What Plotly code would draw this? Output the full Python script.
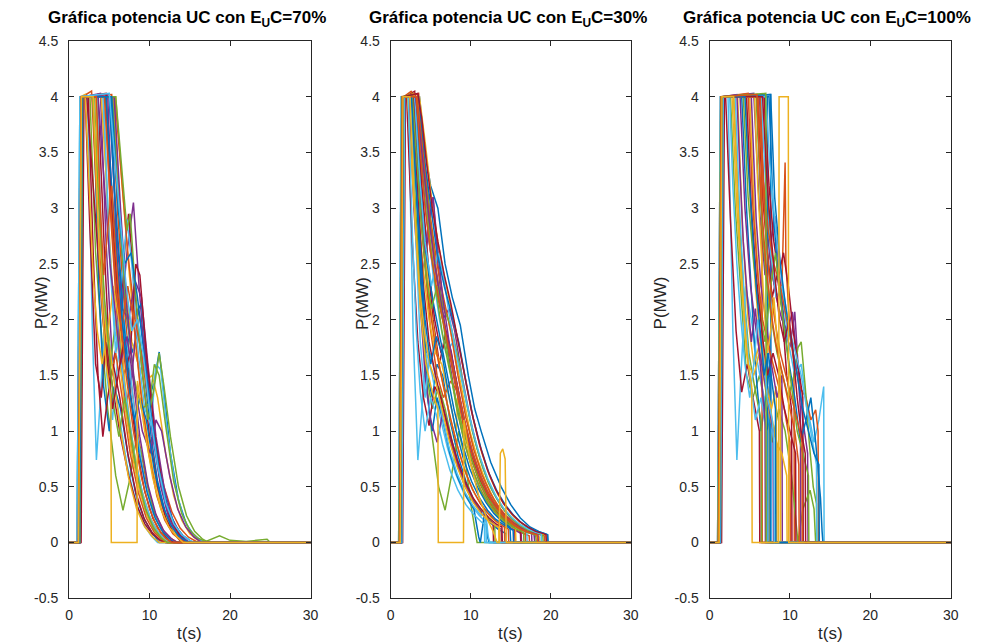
import plotly.graph_objects as go

# ---------------- data (t [s], P [MW]) ----------------
titles = ["Gráfica potencia UC con E<sub>U</sub>C=70%",
          "Gráfica potencia UC con E<sub>U</sub>C=30%",
          "Gráfica potencia UC con E<sub>U</sub>C=100%"]
x_ticks = [0, 10, 20, 30]
y_ticks = [-0.5, 0, 0.5, 1, 1.5, 2, 2.5, 3, 3.5, 4, 4.5]
y_ticktext = ["-0.5", "0", "0.5", "1", "1.5", "2", "2.5", "3", "3.5", "4", "4.5"]
matlab_colors = ["#0072BD", "#D95319", "#EDB120", "#7E2F8E", "#77AC30", "#4DBEEE", "#A2142F"]

curves_70 = [
    [[0,0],[1.3,0],[1.6,4.0],[5.6,4.0],[6.3,2.9],[7.0,2.1],[7.8,1.7],[8.6,1.9],[9.4,1.5],[10.2,0.95],[11.0,0.55],[12.0,0.26],[13.0,0.11],[14.0,0.04],[15.0,0],[30,0]],
    [[0,0],[1.0,0],[1.4,4.0],[5.3,4.02],[6.0,3.0],[6.8,2.2],[7.6,1.5],[8.6,0.95],[9.6,0.55],[10.6,0.28],[11.6,0.12],[12.6,0.04],[13.5,0],[30,0]],
    [[0,0],[1.1,0],[1.5,4.0],[5.8,4.0],[6.6,3.2],[7.5,2.4],[8.4,1.7],[9.4,1.1],[10.4,0.65],[11.4,0.35],[12.4,0.17],[13.4,0.07],[14.5,0],[30,0]],
    [[0,0],[1.4,0],[1.8,4.0],[3.9,4.03],[4.6,2.7],[5.4,1.6],[6.3,1.9],[7.2,2.6],[8.0,3.05],[8.7,2.3],[9.5,1.55],[10.4,0.95],[11.4,0.5],[12.4,0.22],[13.4,0.08],[14.4,0],[30,0]],
    [[0,0],[1.2,0],[1.5,4.0],[2.6,4.0],[3.3,2.6],[4.0,1.9],[4.8,1.2],[5.8,0.6],[6.7,0.29],[7.5,0.55],[8.4,0.95],[9.2,0.75],[10.0,0.42],[11.0,0.18],[12.0,0.05],[12.6,0],[30,0]],
    [[0,0],[1.0,0],[1.35,4.0],[2.3,4.0],[2.9,1.9],[3.4,0.74],[3.9,1.3],[4.5,2.1],[5.2,1.7],[6.2,1.15],[7.2,0.7],[8.2,0.38],[9.2,0.17],[10.2,0.06],[11.0,0],[30,0]],
    [[0,0],[1.5,0],[1.85,4.0],[3.6,4.0],[4.4,2.6],[5.2,1.45],[6.2,1.9],[7.0,2.7],[7.4,2.95],[8.0,2.4],[9.0,1.6],[10.0,0.95],[11.0,0.5],[12.0,0.22],[13.0,0.08],[14.0,0],[30,0]],
    [[0,0],[1.2,0],[1.55,4.0],[5.2,4.0],[6.0,2.5],[7.0,1.7],[8.0,2.0],[9.0,2.15],[10.0,1.3],[10.6,1.45],[11.2,1.71],[11.8,1.35],[12.6,0.8],[13.6,0.38],[14.6,0.16],[15.6,0.06],[16.6,0.01],[17,0],[30,0]],
    [[0,0],[1.1,0],[1.45,4.0],[4.5,4.0],[5.2,2.9],[6.0,2.0],[6.8,1.4],[7.8,0.85],[8.8,0.48],[9.8,0.24],[10.8,0.1],[11.8,0.03],[12.5,0],[30,0]],
    [[0,0],[1.2,0],[1.55,4.0],[5.5,4.0],[6.2,3.1],[7.0,2.3],[7.8,1.8],[8.6,1.6],[9.5,1.45],[10.3,1.5],[11.0,1.3],[12.0,0.8],[13.0,0.42],[14.0,0.2],[15.0,0.08],[16.0,0.02],[16.5,0],[30,0]],
    [[0,0],[1.3,0],[1.65,4.0],[4.8,4.02],[5.5,2.7],[6.3,1.8],[7.0,1.2],[7.8,1.5],[8.6,2.1],[9.3,1.8],[10.2,1.1],[11.2,0.6],[12.2,0.28],[13.2,0.12],[14.2,0.04],[15.0,0],[30,0]],
    [[0,0],[1.15,0],[1.5,4.0],[3.2,4.0],[3.8,2.9],[4.3,2.2],[5.0,1.5],[5.8,2.0],[6.6,1.6],[7.6,1.0],[8.6,0.55],[9.6,0.27],[10.6,0.11],[11.6,0.03],[12.2,0],[30,0]],
    [[0,0],[1.25,0],[1.6,4.0],[4.2,4.0],[5.0,2.6],[5.8,1.7],[6.6,2.4],[7.2,2.9],[7.8,2.5],[8.6,1.7],[9.4,1.2],[10.2,1.05],[10.8,1.6],[11.4,1.55],[12.2,1.0],[13.2,0.5],[14.2,0.22],[15.2,0.09],[16.2,0.03],[17.0,0],[30,0]],
    [[0,0],[1.05,0],[1.4,4.0],[2.0,4.0],[2.6,2.8],[3.3,1.6],[4.0,1.3],[4.6,1.8],[5.4,1.4],[6.4,0.95],[7.4,0.6],[8.4,0.34],[9.4,0.17],[10.4,0.07],[11.4,0.02],[12,0],[30,0]],
    [[0,0],[1.35,0],[1.7,4.0],[3.0,4.0],[3.7,2.3],[4.3,1.4],[5.0,1.0],[5.6,1.4],[6.4,1.2],[7.4,0.75],[8.4,0.4],[9.4,0.2],[10.4,0.08],[11.2,0],[30,0]],
    [[0,0],[1.2,0],[1.55,4.0],[5.7,4.0],[6.5,3.3],[7.3,2.6],[8.2,2.0],[9.0,1.7],[9.8,1.3],[10.8,0.85],[11.8,0.5],[12.8,0.27],[13.8,0.13],[14.8,0.05],[15.8,0.01],[16.3,0],[30,0]],
    [[0,0],[1.1,0],[1.45,4.0],[4.0,4.0],[4.6,3.3],[5.3,2.4],[6.0,1.8],[6.8,1.3],[7.8,0.8],[8.8,0.45],[9.8,0.22],[10.8,0.1],[11.8,0.03],[12.5,0],[30,0]],
    [[0,0],[1.3,0],[1.65,4.0],[5.0,4.0],[5.8,2.9],[6.6,2.1],[7.4,2.0],[8.2,2.35],[9.0,2.2],[9.8,1.6],[10.8,0.95],[11.8,0.5],[12.8,0.22],[13.8,0.08],[14.8,0],[30,0]],
    [[0,0],[1.25,0],[1.6,4.0],[5.4,4.0],[6.2,3.0],[7.0,2.2],[8.0,1.5],[9.0,1.2],[10.0,1.25],[10.6,1.6],[11.2,1.5],[12.0,1.05],[13.0,0.55],[14.0,0.26],[15.0,0.11],[16.0,0.04],[17.0,0.01],[18.7,0.06],[20.0,0.02],[22.0,0.01],[24.6,0.03],[25.0,0],[30,0]],
    [[0,0],[1.0,0],[1.35,4.0],[3.5,4.0],[4.1,2.5],[4.7,1.5],[5.4,1.1],[6.0,1.6],[6.8,2.0],[7.5,1.6],[8.4,1.0],[9.4,0.55],[10.4,0.27],[11.4,0.12],[12.4,0.04],[13.0,0],[30,0]],
    [[0,0],[1.4,0],[1.75,4.0],[4.6,4.03],[5.3,3.0],[6.1,2.2],[6.8,1.5],[7.6,1.7],[8.3,2.5],[8.8,2.4],[9.6,1.7],[10.6,1.0],[11.6,0.5],[12.6,0.22],[13.6,0.08],[14.6,0],[30,0]],
    [[0,0],[1.15,0],[1.5,4.0],[5.0,4.0],[5.6,3.2],[6.2,2.6],[6.9,1.9],[7.7,1.3],[8.7,0.8],[9.7,0.45],[10.7,0.22],[11.7,0.09],[12.7,0.02],[13.3,0],[30,0]],
    [[0,0],[1.3,0],[1.65,4.0],[2.8,4.05],[3.5,3.0],[4.2,2.1],[5.0,1.4],[5.8,1.7],[6.6,1.3],[7.6,0.8],[8.6,0.45],[9.6,0.22],[10.6,0.09],[11.6,0.02],[12.2,0],[30,0]],
    [[0,0],[1.1,0],[1.45,4.0],[3.3,4.0],[4.0,2.6],[4.7,1.8],[5.5,2.3],[6.2,2.0],[7.0,1.4],[8.0,0.85],[9.0,0.48],[10.0,0.24],[11.0,0.1],[12.0,0.03],[12.7,0],[30,0]],
    [[0,0],[1.35,0],[1.7,4.0],[5.6,4.0],[6.4,3.0],[7.2,2.1],[8.1,1.45],[9.1,1.0],[10.1,0.8],[10.8,1.1],[11.5,1.0],[12.5,0.6],[13.5,0.3],[14.5,0.14],[15.5,0.05],[16.5,0],[30,0]],
    [[0,0],[1.2,0],[1.55,4.0],[5.8,4.0],[6.5,3.4],[7.2,2.8],[7.6,2.95],[8.2,2.3],[9.0,1.6],[9.8,1.1],[10.6,1.4],[11.2,1.7],[11.8,1.4],[12.6,0.95],[13.6,0.5],[14.6,0.24],[15.6,0.1],[16.6,0.03],[17.4,0],[30,0]],
    [[0,0],[1.25,0],[1.6,4.0],[4.3,4.0],[5.0,2.7],[5.7,1.9],[6.5,1.6],[7.3,1.2],[8.2,0.75],[9.2,0.42],[10.2,0.2],[11.2,0.08],[12.2,0.02],[12.8,0],[30,0]],
    [[0,0],[1.15,0],[1.5,4.0],[2.4,4.0],[3.0,2.6],[3.6,1.5],[4.2,0.95],[4.8,1.3],[5.5,1.6],[6.3,1.3],[7.3,0.8],[8.3,0.45],[9.3,0.22],[10.3,0.09],[11.3,0.02],[12,0],[30,0]],
    [[0,0],[1.3,0],[1.65,4.0],[5.3,4.0],[6.1,3.0],[6.9,2.5],[7.7,2.6],[8.5,2.2],[9.3,1.7],[10.2,1.15],[11.2,0.65],[12.2,0.33],[13.2,0.15],[14.2,0.06],[15.2,0.01],[15.7,0],[30,0]],
    [[0,0],[1.05,0],[1.4,4.0],[4.4,4.0],[5.1,3.1],[5.8,2.3],[6.5,1.9],[7.3,2.3],[8.0,2.0],[8.9,1.35],[9.9,0.8],[10.9,0.42],[11.9,0.2],[12.9,0.08],[13.9,0.02],[14.5,0],[30,0]],
    [[0,0],[1.1,0],[1.45,4.0],[2.0,4.02],[2.5,3.2],[3.0,2.4],[3.5,1.9],[4.1,1.6],[4.8,1.9],[5.5,1.5],[6.4,1.0],[7.4,0.58],[8.4,0.3],[9.4,0.14],[10.4,0.05],[11.2,0],[30,0]],
    [[0,0],[1.25,0],[1.6,4.0],[3.6,4.02],[4.1,3.5],[4.6,3.0],[5.1,2.5],[5.7,2.1],[6.4,1.6],[7.2,1.85],[7.9,1.5],[8.8,0.95],[9.8,0.52],[10.8,0.25],[11.8,0.1],[12.8,0.03],[13.5,0],[30,0]],
    [[0,0],[1.35,0],[1.7,4.0],[2.9,4.0],[3.4,3.4],[3.9,2.8],[4.4,2.2],[5.0,1.7],[5.6,1.2],[6.2,0.95],[6.9,1.3],[7.6,1.0],[8.5,0.6],[9.5,0.3],[10.5,0.13],[11.5,0.04],[12.2,0],[30,0]],
    [[0,0],[1.0,0],[1.35,4.0],[5.0,4.03],[5.5,3.6],[6.0,3.2],[6.5,2.8],[7.1,2.3],[7.8,1.9],[8.5,2.0],[9.2,1.7],[10.0,1.2],[11.0,0.7],[12.0,0.36],[13.0,0.17],[14.0,0.07],[15.0,0.02],[15.6,0],[30,0]],
    [[0,0],[1.2,0],[1.55,4.0],[2.2,4.0],[2.7,3.5],[3.2,3.0],[3.7,2.5],[4.2,2.0],[4.8,1.6],[5.4,1.2],[6.1,1.5],[6.8,1.8],[7.5,1.4],[8.4,0.85],[9.4,0.46],[10.4,0.22],[11.4,0.09],[12.4,0.02],[13,0],[30,0]],
    [[0,0],[1.3,0],[1.65,4.0],[4.6,4.0],[5.1,3.4],[5.6,2.9],[6.1,2.4],[6.7,1.9],[7.4,1.4],[8.1,1.1],[8.8,1.3],[9.6,1.1],[10.6,0.65],[11.6,0.34],[12.6,0.16],[13.6,0.06],[14.6,0.01],[15,0],[30,0]],
    [[0,0],[1.15,0],[1.5,4.0],[3.4,4.0],[3.9,3.0],[4.3,2.4],[4.8,2.8],[5.3,3.2],[5.8,2.6],[6.4,2.0],[7.1,1.5],[8.0,1.0],[9.0,0.58],[10.0,0.3],[11.0,0.13],[12.0,0.04],[12.8,0],[30,0]],
    [[0,0],[1.2,0],[1.55,4.0],[3.0,4.0],[3.8,2.5],[4.6,1.6],[5.2,1.3],[5.25,0],[8.45,0],[8.5,1.45],[9.4,1.0],[10.4,0.58],[11.4,0.3],[12.4,0.14],[13.4,0.05],[14.2,0],[30,0]],
]

curves_30 = [
    [[0,0],[1.3,0],[1.6,4.0],[2.6,4.0],[3.3,3.0],[4.0,2.2],[4.6,1.5],[5.2,1.3],[5.8,1.6],[6.5,1.5],[7.4,1.1],[8.4,0.78],[9.4,0.55],[10.4,0.38],[11.4,0.26],[12.4,0.18],[13.4,0.12],[14.4,0.08],[14.45,0],[30,0]],
    [[0,0],[1.0,0],[1.35,4.0],[3.4,4.02],[4.0,3.6],[4.8,3.0],[5.6,2.5],[6.4,2.1],[7.3,1.75],[8.3,1.35],[9.3,1.0],[10.3,0.74],[11.3,0.53],[12.3,0.38],[13.3,0.27],[14.3,0.19],[15.3,0.13],[16.3,0.09],[17.3,0.06],[17.35,0],[30,0]],
    [[0,0],[1.2,0],[1.55,4.0],[3.2,4.0],[3.9,3.4],[4.7,2.8],[5.5,2.4],[6.4,2.2],[7.2,2.0],[8.0,1.7],[8.9,1.35],[9.9,1.0],[10.9,0.74],[11.9,0.54],[12.9,0.39],[13.9,0.28],[14.9,0.2],[15.9,0.14],[16.9,0.1],[17.9,0.07],[18.6,0.05],[18.65,0],[30,0]],
    [[0,0],[1.4,0],[1.75,4.0],[2.4,4.0],[3.0,3.0],[3.7,2.3],[4.4,2.6],[5.3,3.1],[5.9,2.5],[6.6,2.0],[7.4,1.6],[8.3,1.2],[9.3,0.88],[10.3,0.64],[11.3,0.46],[12.3,0.33],[13.3,0.24],[14.3,0.17],[15.3,0.12],[16.3,0.08],[16.35,0],[30,0]],
    [[0,0],[1.1,0],[1.45,4.0],[2.2,4.0],[2.9,3.2],[3.6,2.4],[4.3,1.6],[5.1,1.0],[6.0,0.5],[6.8,0.29],[7.6,0.6],[8.5,1.0],[9.3,0.75],[10.0,0.35],[10.8,0],[30,0]],
    [[0,0],[1.0,0],[1.3,4.0],[2.2,4.0],[2.8,1.9],[3.4,0.74],[3.9,1.2],[4.5,1.7],[5.2,1.5],[6.1,1.15],[7.1,0.85],[8.1,0.62],[9.1,0.45],[10.1,0.33],[11.1,0.24],[11.7,0.2],[11.75,0],[30,0]],
    [[0,0],[1.5,0],[1.85,4.0],[3.0,4.05],[3.7,3.3],[4.5,2.6],[5.3,2.0],[6.1,1.6],[6.9,1.9],[7.6,1.7],[8.5,1.3],[9.5,0.95],[10.5,0.7],[11.5,0.5],[12.5,0.36],[13.5,0.26],[14.5,0.18],[15.5,0.13],[15.55,0],[30,0]],
    [[0,0],[1.2,0],[1.55,4.0],[3.6,4.0],[4.3,3.5],[5.0,3.2],[5.9,3.0],[6.8,2.5],[7.7,2.2],[8.7,1.95],[9.7,1.5],[10.5,1.2],[11.3,1.0],[12.5,0.72],[13.8,0.5],[15.0,0.34],[16.2,0.22],[17.4,0.14],[18.5,0.1],[19.6,0.07],[19.65,0],[30,0]],
    [[0,0],[1.1,0],[1.45,4.0],[3.0,4.0],[3.6,3.2],[4.3,2.5],[5.0,1.9],[5.8,1.5],[6.6,1.3],[7.5,1.45],[8.4,1.35],[9.2,1.0],[10.2,0.72],[11.2,0.52],[12.2,0.37],[13.2,0.27],[14.2,0.19],[14.25,0],[30,0]],
    [[0,0],[1.25,0],[1.6,4.0],[2.9,4.03],[3.5,3.4],[4.2,2.7],[5.0,2.1],[5.8,1.7],[6.6,1.4],[7.5,1.1],[8.5,0.82],[9.5,0.6],[10.5,0.44],[11.5,0.32],[12.5,0.23],[13.5,0.17],[13.55,0],[30,0]],
    [[0,0],[1.3,0],[1.65,4.0],[3.3,4.0],[4.0,3.3],[4.8,2.7],[5.6,2.3],[6.5,2.0],[7.3,2.1],[8.0,1.9],[8.9,1.5],[9.9,1.12],[10.9,0.82],[11.9,0.6],[12.9,0.44],[13.9,0.32],[14.9,0.23],[15.9,0.16],[16.9,0.11],[17.9,0.08],[18.0,0],[30,0]],
    [[0,0],[1.15,0],[1.5,4.0],[2.5,4.0],[3.1,3.0],[3.8,2.1],[4.5,1.5],[5.2,1.2],[6.0,1.4],[6.8,1.2],[7.7,0.9],[8.7,0.65],[9.7,0.47],[10.7,0.34],[11.7,0.25],[12.7,0.18],[13.0,0.16],[13.05,0],[30,0]],
    [[0,0],[1.25,0],[1.6,4.0],[2.9,4.0],[3.5,3.6],[4.05,3.45],[4.6,2.9],[5.3,2.4],[6.1,2.0],[6.9,1.7],[7.8,1.8],[8.6,1.6],[9.5,1.25],[10.5,0.92],[11.5,0.67],[12.5,0.49],[13.5,0.36],[14.5,0.26],[15.5,0.19],[16.5,0.14],[17.0,0.12],[17.05,0],[30,0]],
    [[0,0],[1.05,0],[1.4,4.0],[2.0,4.0],[2.7,2.7],[3.4,1.8],[4.1,1.3],[4.8,1.05],[5.5,1.4],[6.3,1.3],[7.2,0.98],[8.2,0.72],[9.2,0.52],[10.2,0.38],[11.2,0.28],[12.2,0.2],[12.8,0.17],[12.85,0],[30,0]],
    [[0,0],[1.35,0],[1.7,4.0],[2.8,4.0],[3.4,2.9],[4.0,2.0],[4.6,1.3],[5.2,1.0],[5.8,1.3],[6.5,1.1],[7.4,0.8],[8.4,0.58],[9.4,0.42],[10.4,0.3],[11.0,0.05],[11.2,0],[11.8,0.3],[12.1,0.05],[12.3,0],[30,0]],
    [[0,0],[1.2,0],[1.55,4.0],[3.5,4.03],[4.2,3.4],[5.0,2.9],[5.8,2.5],[6.6,2.2],[7.5,1.9],[8.4,1.5],[9.4,1.12],[10.4,0.83],[11.4,0.61],[12.4,0.45],[13.4,0.33],[14.4,0.24],[15.4,0.18],[16.4,0.13],[17.4,0.09],[18.4,0.07],[19.2,0.06],[19.25,0],[30,0]],
    [[0,0],[1.1,0],[1.45,4.0],[2.7,4.0],[3.3,3.2],[4.0,2.5],[4.8,2.0],[5.6,1.7],[6.4,1.6],[7.3,1.3],[8.2,1.0],[8.4,1.35],[8.7,1.1],[9.6,0.8],[10.6,0.58],[11.6,0.42],[12.6,0.31],[13.6,0.22],[14.6,0.16],[15.6,0.12],[15.65,0],[30,0]],
    [[0,0],[1.3,0],[1.65,4.0],[2.3,4.0],[2.9,3.0],[3.6,2.2],[4.3,1.5],[5.0,1.1],[5.8,0.9],[6.6,1.2],[7.3,1.0],[8.2,0.74],[9.2,0.54],[10.2,0.39],[11.2,0.28],[12.2,0.2],[13.2,0.15],[13.8,0.12],[13.85,0],[30,0]],
    [[0,0],[1.25,0],[1.6,4.0],[3.4,4.0],[4.1,3.5],[4.9,2.9],[5.7,2.4],[6.6,2.1],[7.5,1.95],[8.3,1.7],[9.2,1.35],[10.2,1.0],[11.2,0.74],[12.2,0.54],[13.2,0.4],[14.2,0.29],[15.2,0.21],[16.2,0.15],[17.2,0.11],[18.2,0.08],[19.0,0.07],[19.05,0],[30,0]],
    [[0,0],[1.0,0],[1.35,4.0],[2.5,4.0],[3.1,2.8],[3.7,1.8],[4.3,1.3],[4.9,1.7],[5.6,1.5],[6.4,1.15],[7.3,0.85],[8.3,0.62],[9.3,0.45],[10.3,0.33],[11.3,0.24],[11.8,0.3],[12.2,0.05],[12.4,0],[30,0]],
    [[0,0],[1.4,0],[1.75,4.0],[3.2,4.0],[3.9,3.2],[4.7,2.5],[5.5,2.0],[6.3,1.7],[7.1,1.85],[7.8,1.6],[8.7,1.25],[9.7,0.92],[10.7,0.68],[11.7,0.5],[12.7,0.37],[13.7,0.27],[14.7,0.2],[15.7,0.15],[16.2,0.13],[16.25,0],[30,0]],
    [[0,0],[1.15,0],[1.5,4.0],[3.1,4.0],[3.7,3.2],[4.4,2.6],[5.2,2.2],[6.0,1.9],[6.9,1.55],[7.9,1.2],[8.9,0.9],[9.9,0.66],[10.9,0.49],[11.9,0.36],[12.9,0.26],[13.9,0.19],[14.9,0.14],[15.0,0],[30,0]],
    [[0,0],[1.3,0],[1.65,4.0],[2.6,4.05],[3.2,3.5],[3.9,2.8],[4.7,2.2],[5.5,1.8],[6.3,1.5],[7.2,1.2],[8.2,0.9],[9.2,0.66],[10.2,0.48],[11.2,0.35],[12.2,0.26],[13.2,0.19],[14.2,0.14],[14.7,0.12],[14.75,0],[30,0]],
    [[0,0],[1.2,0],[1.55,4.0],[3.6,4.0],[4.3,3.6],[5.1,3.1],[5.9,2.7],[6.8,2.35],[7.7,2.05],[8.6,1.75],[9.5,1.4],[10.4,1.08],[11.4,0.8],[12.4,0.59],[13.4,0.43],[14.4,0.32],[15.4,0.23],[16.4,0.17],[17.4,0.12],[18.4,0.09],[19.4,0.07],[19.5,0],[30,0]],
    [[0,0],[1.1,0],[1.45,4.0],[2.9,4.0],[3.5,3.2],[4.2,2.6],[4.8,2.9],[5.3,3.1],[5.8,2.7],[6.5,2.2],[7.3,1.8],[8.2,1.45],[9.2,1.1],[10.2,0.8],[11.2,0.58],[12.2,0.42],[13.2,0.31],[14.2,0.22],[15.2,0.16],[16.2,0.12],[17.2,0.09],[17.6,0.08],[17.65,0],[30,0]],
    [[0,0],[1.35,0],[1.7,4.0],[3.3,4.0],[4.0,3.4],[4.8,2.8],[5.6,2.3],[6.4,1.9],[7.2,1.6],[8.1,1.3],[9.1,1.0],[10.1,0.75],[11.1,0.55],[12.1,0.4],[13.1,0.3],[14.1,0.22],[15.1,0.16],[16.1,0.12],[17.1,0.09],[18.1,0.07],[18.2,0],[30,0]],
    [[0,0],[1.2,0],[1.55,4.0],[3.0,4.0],[3.6,3.3],[4.3,2.7],[5.1,2.3],[5.9,2.6],[6.6,2.4],[7.4,2.0],[8.3,1.65],[9.2,1.35],[10.2,1.02],[11.2,0.76],[12.2,0.56],[13.2,0.41],[14.2,0.3],[15.2,0.22],[16.2,0.16],[17.2,0.12],[18.2,0.09],[18.8,0.08],[18.85,0],[30,0]],
    [[0,0],[1.25,0],[1.6,4.0],[2.8,4.0],[3.4,3.1],[4.1,2.3],[4.8,1.8],[5.6,1.5],[6.4,1.25],[7.3,1.0],[8.3,0.75],[9.3,0.55],[10.3,0.4],[11.3,0.3],[12.3,0.22],[13.3,0.16],[13.9,0.14],[13.95,0],[30,0]],
    [[0,0],[1.3,0],[1.65,4.0],[3.5,4.0],[4.2,3.45],[5.0,3.0],[5.8,2.6],[6.7,2.3],[7.6,2.05],[8.5,1.8],[9.4,1.45],[10.3,1.12],[11.3,0.84],[12.3,0.62],[13.3,0.46],[14.3,0.34],[15.3,0.25],[16.3,0.18],[17.3,0.13],[18.3,0.1],[19.3,0.08],[19.6,0.07],[19.65,0],[30,0]],
    [[0,0],[1.15,0],[1.5,4.0],[3.3,4.0],[3.9,3.6],[4.7,3.0],[5.5,2.5],[6.3,2.1],[7.2,1.75],[8.1,1.4],[9.1,1.06],[10.1,0.8],[11.1,0.59],[12.1,0.43],[13.1,0.32],[14.1,0.23],[15.1,0.17],[16.1,0.12],[16.8,0.1],[16.85,0],[30,0]],
    [[0,0],[1.15,0],[1.5,4.0],[2.1,4.0],[2.6,3.4],[3.1,2.8],[3.6,2.3],[4.2,1.9],[4.9,1.6],[5.6,1.45],[6.4,1.2],[7.3,0.92],[8.3,0.68],[9.3,0.5],[10.3,0.36],[11.3,0.26],[12.3,0.19],[13.3,0.14],[13.6,0.13],[13.65,0],[30,0]],
    [[0,0],[1.3,0],[1.65,4.0],[3.1,4.0],[3.6,3.7],[4.2,3.3],[4.8,2.9],[5.5,2.5],[6.3,2.15],[7.1,1.8],[8.0,1.5],[9.0,1.15],[10.0,0.86],[11.0,0.64],[12.0,0.47],[13.0,0.35],[14.0,0.26],[15.0,0.19],[16.0,0.14],[17.0,0.1],[18.0,0.08],[18.4,0.07],[18.45,0],[30,0]],
    [[0,0],[1.05,0],[1.4,4.0],[2.7,4.02],[3.2,3.5],[3.8,2.9],[4.4,2.4],[5.1,2.1],[5.8,2.3],[6.5,2.0],[7.3,1.6],[8.2,1.22],[9.2,0.9],[10.2,0.66],[11.2,0.48],[12.2,0.35],[13.2,0.26],[14.2,0.19],[15.2,0.14],[16.2,0.1],[16.6,0.09],[16.65,0],[30,0]],
    [[0,0],[1.4,0],[1.75,4.0],[2.2,4.0],[2.7,2.8],[3.2,1.9],[3.7,1.35],[4.3,1.0],[5.0,1.3],[5.7,1.15],[6.5,0.88],[7.4,0.65],[8.4,0.47],[9.4,0.34],[10.4,0.25],[11.4,0.18],[11.9,0.16],[11.95,0],[30,0]],
    [[0,0],[1.2,0],[1.55,4.0],[3.4,4.03],[3.9,3.8],[4.5,3.4],[5.2,3.0],[5.9,2.7],[6.7,2.4],[7.5,2.15],[8.3,1.85],[9.2,1.5],[10.1,1.18],[11.1,0.88],[12.1,0.65],[13.1,0.48],[14.1,0.35],[15.1,0.26],[16.1,0.19],[17.1,0.14],[18.1,0.1],[19.1,0.08],[19.4,0.07],[19.45,0],[30,0]],
    [[0,0],[1.25,0],[1.6,4.0],[2.6,4.0],[3.1,3.3],[3.7,2.6],[4.3,2.0],[5.0,1.6],[5.7,1.85],[6.4,1.7],[7.2,1.35],[8.1,1.02],[9.1,0.75],[10.1,0.55],[11.1,0.4],[12.1,0.29],[13.1,0.21],[14.1,0.16],[15.1,0.12],[15.3,0.11],[15.35,0],[30,0]],
    [[0,0],[1.1,0],[1.45,4.0],[3.2,4.0],[3.7,3.5],[4.3,3.0],[5.0,2.6],[5.7,2.3],[6.5,2.0],[7.4,1.7],[8.3,1.4],[9.3,1.07],[10.3,0.8],[11.3,0.59],[12.3,0.43],[13.3,0.32],[14.3,0.23],[15.3,0.17],[16.3,0.12],[17.3,0.09],[18.3,0.07],[18.35,0],[30,0]],
    [[0,0],[1.2,0],[1.55,4.0],[2.4,4.0],[3.0,3.0],[3.7,2.1],[4.4,1.6],[5.2,1.35],[5.9,1.2],[5.95,0],[9.1,0],[9.15,1.1],[10.0,0.7],[11.0,0.42],[12.0,0.22],[12.8,0.1],[13.3,0],[13.55,0],[13.7,0.8],[14.0,0.84],[14.3,0.75],[14.45,0],[30,0]],
]

curves_100 = [
    [[0,0],[1.3,0],[1.6,4.0],[7.6,4.02],[7.65,0],[30,0]],
    [[0,0],[1.0,0],[1.35,4.0],[6.8,4.0],[7.3,3.0],[7.8,2.4],[8.4,2.2],[9.0,2.3],[9.4,3.41],[9.5,2.5],[10.0,1.9],[10.5,1.6],[10.55,0],[30,0]],
    [[0,0],[1.2,0],[1.55,4.0],[5.0,4.0],[5.6,2.9],[6.2,2.2],[6.8,1.6],[7.4,1.3],[7.45,0],[30,0]],
    [[0,0],[1.4,0],[1.75,4.0],[5.5,4.03],[6.2,3.0],[6.9,2.4],[7.5,2.6],[8.1,2.93],[8.7,2.4],[9.4,1.9],[10.0,1.75],[10.6,2.07],[11.0,1.6],[11.6,1.1],[12.2,0.8],[12.25,0],[30,0]],
    [[0,0],[1.2,0],[1.5,4.0],[2.6,4.0],[3.2,3.0],[3.9,2.2],[4.6,1.5],[5.4,1.3],[6.2,1.5],[7.0,1.2],[7.8,0.9],[8.6,1.2],[9.4,1.0],[10.2,0.6],[10.8,0.15],[11.0,0],[11.6,0.3],[12.5,0.47],[13.0,0.3],[13.2,0],[30,0]],
    [[0,0],[1.0,0],[1.35,4.0],[2.3,4.0],[2.9,1.9],[3.4,0.74],[3.9,1.5],[4.5,2.3],[5.2,2.0],[6.0,1.6],[6.8,1.3],[7.6,1.0],[7.65,0],[30,0]],
    [[0,0],[1.5,0],[1.85,4.0],[6.0,4.0],[6.6,3.1],[7.2,2.6],[7.8,2.2],[8.4,2.4],[9.0,2.1],[9.6,1.5],[10.2,1.2],[10.25,0],[30,0]],
    [[0,0],[1.2,0],[1.55,4.0],[4.0,4.0],[4.6,3.0],[5.2,2.2],[5.8,1.5],[6.4,1.0],[7.0,1.3],[7.5,1.6],[7.55,0],[30,0]],
    [[0,0],[1.1,0],[1.45,4.0],[6.5,4.0],[6.55,0],[30,0]],
    [[0,0],[1.25,0],[1.6,4.0],[3.5,4.0],[4.1,2.8],[4.8,2.0],[5.5,1.6],[6.3,1.8],[7.0,1.5],[7.8,1.1],[8.5,0.85],[8.55,0],[30,0]],
    [[0,0],[1.3,0],[1.65,4.0],[6.2,4.0],[6.9,3.0],[7.6,2.5],[8.3,2.2],[9.0,2.0],[9.7,1.9],[10.3,2.07],[10.8,1.7],[11.3,1.2],[11.35,0],[30,0]],
    [[0,0],[1.15,0],[1.5,4.0],[3.0,4.0],[3.6,3.0],[4.2,2.3],[4.9,1.7],[5.6,1.4],[6.4,1.1],[6.45,0],[30,0]],
    [[0,0],[1.25,0],[1.6,4.0],[6.4,4.0],[7.0,3.2],[7.6,2.6],[8.3,2.2],[9.0,2.3],[9.8,1.8],[10.6,1.5],[11.4,1.6],[12.2,1.2],[13.0,0.9],[13.6,1.1],[14.2,1.4],[14.25,0],[30,0]],
    [[0,0],[1.05,0],[1.4,4.0],[2.0,4.0],[2.6,2.9],[3.3,1.9],[4.0,1.35],[4.7,1.6],[5.4,1.3],[6.2,1.0],[6.25,0],[30,0]],
    [[0,0],[1.35,0],[1.7,4.0],[7.2,4.0],[7.25,0],[30,0]],
    [[0,0],[1.2,0],[1.55,4.0],[6.0,4.02],[6.6,3.3],[7.3,2.8],[8.0,2.5],[8.8,2.3],[9.6,2.0],[10.4,1.7],[11.2,1.4],[12.0,1.3],[12.6,1.1],[13.2,1.19],[13.5,1.0],[13.55,0],[30,0]],
    [[0,0],[1.1,0],[1.45,4.0],[4.5,4.0],[5.1,3.0],[5.7,2.3],[6.3,1.8],[7.0,1.4],[7.7,1.2],[8.3,1.4],[8.35,0],[30,0]],
    [[0,0],[1.3,0],[1.65,4.0],[5.2,4.0],[5.8,2.9],[6.4,2.3],[7.0,2.0],[7.7,1.6],[8.4,1.3],[9.0,1.5],[9.05,0],[30,0]],
    [[0,0],[1.25,0],[1.6,4.0],[5.8,4.0],[6.4,3.0],[7.0,2.4],[7.7,2.0],[8.4,1.7],[9.1,1.5],[9.8,1.3],[10.5,1.5],[11.0,1.75],[11.4,1.8],[11.9,1.4],[12.4,0.9],[12.9,0.5],[13.3,0.35],[13.35,0],[30,0]],
    [[0,0],[1.0,0],[1.35,4.0],[3.2,4.0],[3.8,2.9],[4.4,2.1],[5.0,1.5],[5.7,1.1],[6.4,1.3],[7.1,1.0],[7.15,0],[30,0]],
    [[0,0],[1.4,0],[1.75,4.0],[6.8,4.0],[7.4,3.2],[8.0,2.7],[8.6,2.4],[9.2,2.6],[9.8,2.3],[10.4,1.9],[11.0,1.6],[11.6,1.3],[11.65,0],[30,0]],
    [[0,0],[1.15,0],[1.5,4.0],[7.4,4.0],[7.9,3.0],[8.5,2.4],[9.2,2.0],[9.9,1.6],[10.6,1.3],[11.3,0.9],[12.0,1.1],[12.6,1.3],[13.2,0.9],[13.8,0.4],[14.0,0.1],[14.1,0],[30,0]],
    [[0,0],[1.3,0],[1.65,4.0],[4.8,4.03],[5.4,3.0],[6.0,2.4],[6.6,2.0],[7.2,1.8],[7.9,1.6],[8.6,1.4],[9.3,1.2],[10.0,0.9],[10.05,0],[30,0]],
    [[0,0],[1.2,0],[1.55,4.0],[2.8,4.0],[3.4,3.0],[4.1,2.2],[4.8,1.6],[5.5,1.5],[6.2,1.7],[6.9,1.4],[7.6,1.1],[8.3,0.9],[9.0,0.8],[9.6,0.6],[9.65,0],[30,0]],
    [[0,0],[1.1,0],[1.45,4.0],[3.8,4.0],[4.4,3.0],[5.1,2.3],[5.8,1.9],[6.5,1.6],[7.2,1.3],[7.9,1.0],[7.95,0],[30,0]],
    [[0,0],[1.35,0],[1.7,4.0],[4.2,4.0],[4.8,3.1],[5.5,2.5],[6.2,2.1],[6.9,1.8],[7.6,2.3],[8.2,2.6],[8.8,2.2],[9.5,1.8],[10.2,1.4],[10.9,1.0],[11.6,0.8],[12.3,0.6],[12.35,0],[30,0]],
    [[0,0],[1.2,0],[1.55,4.0],[7.0,4.0],[7.5,3.4],[8.1,2.9],[8.7,2.5],[9.3,2.2],[10.0,1.9],[10.7,1.7],[11.4,1.5],[12.1,1.2],[12.8,0.9],[13.3,0.7],[13.35,0],[30,0]],
    [[0,0],[1.25,0],[1.6,4.0],[4.6,4.0],[5.2,3.0],[5.8,2.4],[6.5,1.9],[7.2,1.5],[7.9,1.7],[8.6,1.5],[9.3,1.2],[10.0,1.0],[10.7,0.8],[10.75,0],[30,0]],
    [[0,0],[1.3,0],[1.65,4.0],[7.6,4.02],[8.1,3.1],[8.8,2.5],[9.5,2.1],[10.2,1.8],[10.9,1.5],[11.6,1.2],[12.3,1.0],[13.0,0.8],[13.6,0.7],[13.65,0],[30,0]],
    [[0,0],[1.15,0],[1.5,4.0],[6.3,4.0],[6.8,3.0],[7.4,2.4],[8.1,2.0],[8.8,1.7],[9.5,1.5],[10.2,1.3],[10.9,1.1],[11.5,0.9],[11.55,0],[30,0]],
    [[0,0],[1.2,0],[1.55,4.0],[5.6,4.0],[6.0,3.2],[6.4,2.6],[6.8,2.1],[7.2,1.7],[7.6,1.9],[8.0,2.2],[8.4,1.8],[8.8,1.5],[8.85,0],[30,0]],
    [[0,0],[1.3,0],[1.65,4.0],[3.4,4.02],[3.8,3.3],[4.2,2.7],[4.7,2.2],[5.2,1.8],[5.7,2.1],[6.2,1.7],[6.7,1.3],[6.9,1.1],[6.95,0],[30,0]],
    [[0,0],[1.05,0],[1.4,4.0],[7.0,4.03],[7.05,0],[30,0]],
    [[0,0],[1.35,0],[1.7,4.0],[2.5,4.0],[2.9,3.2],[3.4,2.5],[3.9,2.0],[4.4,1.6],[5.0,1.3],[5.5,1.6],[6.0,2.0],[6.6,1.7],[7.2,1.3],[7.8,1.1],[8.0,0.9],[8.05,0],[30,0]],
    [[0,0],[1.15,0],[1.5,4.0],[6.6,4.0],[7.1,3.3],[7.6,2.8],[8.1,2.4],[8.7,2.0],[9.3,1.8],[9.9,2.0],[10.4,1.7],[10.9,1.3],[11.4,1.0],[11.9,0.8],[11.95,0],[30,0]],
    [[0,0],[1.25,0],[1.6,4.0],[4.4,4.0],[4.8,3.4],[5.3,2.8],[5.8,2.3],[6.3,1.9],[6.8,1.5],[7.3,1.7],[7.8,1.4],[8.2,1.2],[8.25,0],[30,0]],
    [[0,0],[1.1,0],[1.45,4.0],[5.9,4.02],[6.4,3.1],[7.0,2.5],[7.6,2.1],[8.2,1.8],[8.8,1.6],[9.4,1.4],[10.0,1.2],[10.6,1.0],[11.1,0.7],[11.15,0],[30,0]],
    [[0,0],[1.2,0],[1.55,4.0],[3.0,4.0],[3.8,2.6],[4.6,1.7],[5.25,1.4],[5.3,0],[8.6,0],[8.65,4.0],[9.8,4.0],[9.85,0],[30,0]],
]

all_curves = [curves_70, curves_30, curves_100]

# ---------------- layout geometry ----------------
# observed mapping of the capture: screen = OFF + S * figure_px
OFF = 8
SX, SY = 0.983, 0.975
W = int(round((987 - OFF) / SX))
H = int(round((644 - OFF) / SY))
px_left = [72.7, 392.7, 710.0]
px_right = [313.0, 631.7, 950.0]
px_top, px_bottom = 41.0, 598.0
ylab_px = [45.0, 364.0, 661.0]

def fx(px):
    return ((px - OFF) / SX) / W

def fy(py):
    return 1 - ((py - OFF) / SY) / H

x_domains = [[fx(a), fx(b)] for a, b in zip(px_left, px_right)]
y_domain = [fy(px_bottom), fy(px_top)]
axis_color = "#262626"
font_family = "Liberation Sans, Arial, Helvetica, sans-serif"

fig = go.Figure()

for i, curves in enumerate(all_curves):
    xa = "x" if i == 0 else f"x{i+1}"
    ya = "y" if i == 0 else f"y{i+1}"
    for k, c in enumerate(curves):
        ts = [p[0] for p in c]
        ps = [p[1] for p in c]
        fig.add_trace(go.Scatter(
            x=ts, y=ps, mode="lines", xaxis=xa, yaxis=ya,
            line=dict(color=matlab_colors[k % 7], width=1.5),
            showlegend=False, hoverinfo="skip"))

axis_common = dict(
    showline=True, mirror="ticks", linecolor=axis_color, linewidth=1,
    ticks="inside", ticklen=5, tickwidth=1, tickcolor=axis_color,
    showgrid=False, zeroline=False,
    tickfont=dict(family=font_family, size=14, color=axis_color),
)

annotations = []
for i in range(3):
    sfx = "" if i == 0 else str(i + 1)
    fig.layout["xaxis" + sfx] = dict(
        domain=x_domains[i], anchor="y" + sfx, range=[0, 30],
        tickvals=x_ticks, ticktext=[str(v) for v in x_ticks],
        ticklabelstandoff=4, **axis_common)
    fig.layout["yaxis" + sfx] = dict(
        domain=y_domain, anchor="x" + sfx, range=[-0.5, 4.5],
        tickvals=y_ticks, ticktext=y_ticktext,
        ticklabelstandoff=7, **axis_common)
    xc = (x_domains[i][0] + x_domains[i][1]) / 2
    annotations.append(dict(
        text=titles[i], x=xc - 0.003, y=fy(19), xref="paper", yref="paper",
        xanchor="center", yanchor="middle", showarrow=False,
        font=dict(family=font_family, size=17, color="#000000", weight="bold")))
    annotations.append(dict(
        text="t(s)", x=xc, y=fy(633), xref="paper", yref="paper",
        xanchor="center", yanchor="middle", showarrow=False,
        font=dict(family=font_family, size=17, color=axis_color)))
    annotations.append(dict(
        text="P(MW)", x=fx(ylab_px[i]), y=fy(303),
        xref="paper", yref="paper", textangle=-90,
        xanchor="center", yanchor="middle", showarrow=False,
        font=dict(family=font_family, size=17, color=axis_color)))

fig.update_layout(
    width=W, height=H, margin=dict(l=0, r=0, t=0, b=0),
    paper_bgcolor="white", plot_bgcolor="white",
    annotations=annotations, showlegend=False)

fig.write_html("out.html")
